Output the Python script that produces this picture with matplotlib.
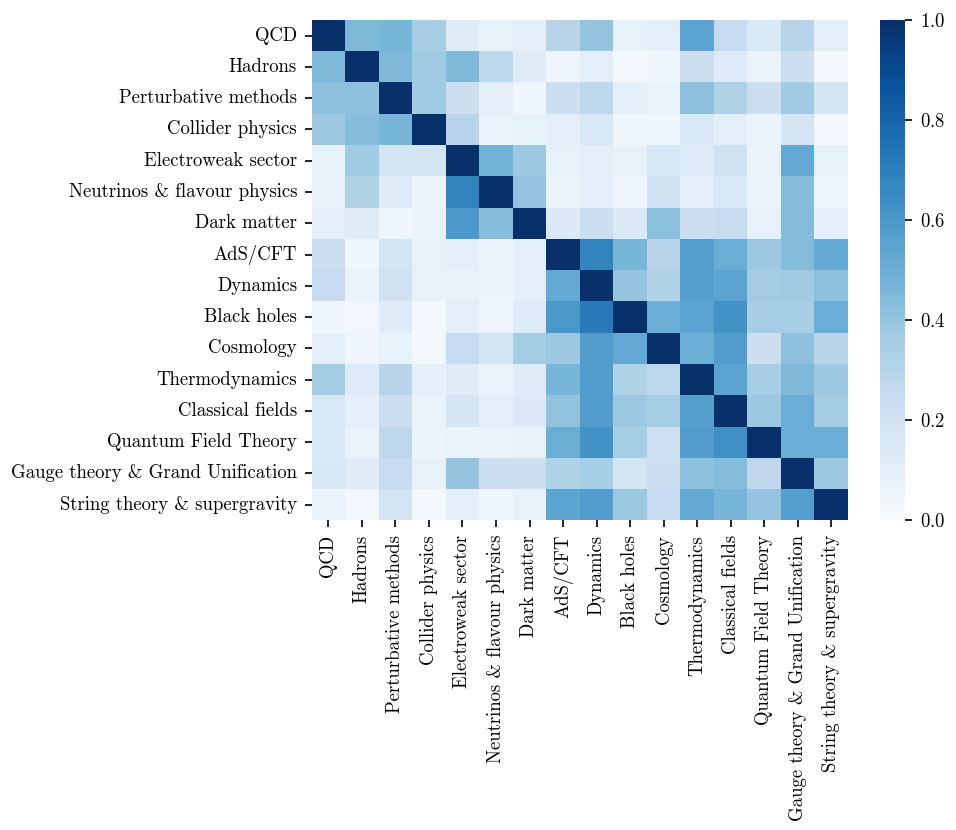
import numpy as np
import matplotlib
matplotlib.use("Agg")
import matplotlib.pyplot as plt
import seaborn as sns

# LaTeX-like look without latex
plt.rcParams['font.family'] = 'serif'
plt.rcParams['font.serif'] = ['cmr10']
plt.rcParams['mathtext.fontset'] = 'cm'
plt.rcParams['axes.formatter.use_mathtext'] = True
plt.rcParams['axes.unicode_minus'] = False

topics = ["QCD", "Hadrons", "Perturbative methods", "Collider physics",
          "Electroweak sector", "Neutrinos & flavour physics", "Dark matter",
          "AdS/CFT", "Dynamics", "Black holes", "Cosmology", "Thermodynamics",
          "Classical fields", "Quantum Field Theory",
          "Gauge theory & Grand Unification", "String theory & supergravity"]

# similarity between topics, row by row
row_qcd = [1.0, 0.45, 0.47, 0.35, 0.12, 0.08, 0.10, 0.30, 0.40, 0.08, 0.10, 0.55, 0.25, 0.15, 0.30, 0.10]
row_had = [0.45, 1.0, 0.45, 0.37, 0.45, 0.28, 0.12, 0.05, 0.10, 0.03, 0.05, 0.22, 0.13, 0.07, 0.22, 0.02]
row_pert = [0.42, 0.42, 1.0, 0.37, 0.22, 0.09, 0.05, 0.22, 0.28, 0.09, 0.07, 0.42, 0.32, 0.23, 0.37, 0.18]
row_coll = [0.38, 0.43, 0.47, 1.0, 0.30, 0.07, 0.08, 0.10, 0.15, 0.04, 0.04, 0.15, 0.10, 0.07, 0.17, 0.03]
row_ew = [0.08, 0.37, 0.18, 0.18, 1.0, 0.48, 0.38, 0.08, 0.10, 0.08, 0.16, 0.13, 0.20, 0.07, 0.52, 0.08]
row_neu = [0.08, 0.32, 0.12, 0.06, 0.68, 1.0, 0.40, 0.06, 0.10, 0.05, 0.20, 0.10, 0.15, 0.07, 0.44, 0.05]
row_dm = [0.10, 0.12, 0.05, 0.07, 0.60, 0.43, 1.0, 0.14, 0.22, 0.14, 0.42, 0.22, 0.24, 0.08, 0.44, 0.09]
row_ads = [0.22, 0.05, 0.18, 0.08, 0.10, 0.06, 0.10, 1.0, 0.68, 0.47, 0.30, 0.57, 0.50, 0.38, 0.44, 0.52]
row_dyn = [0.25, 0.07, 0.20, 0.08, 0.08, 0.06, 0.10, 0.52, 1.0, 0.40, 0.32, 0.57, 0.55, 0.36, 0.37, 0.42]
row_bh = [0.05, 0.03, 0.12, 0.03, 0.10, 0.05, 0.13, 0.60, 0.72, 1.0, 0.50, 0.55, 0.62, 0.35, 0.35, 0.50]
row_cos = [0.09, 0.05, 0.08, 0.03, 0.25, 0.18, 0.36, 0.38, 0.58, 0.52, 1.0, 0.50, 0.58, 0.22, 0.42, 0.30]
row_thermo = [0.36, 0.13, 0.30, 0.09, 0.12, 0.07, 0.12, 0.47, 0.58, 0.32, 0.28, 1.0, 0.55, 0.35, 0.45, 0.38]
row_cf = [0.15, 0.09, 0.22, 0.07, 0.17, 0.10, 0.14, 0.41, 0.58, 0.38, 0.35, 0.57, 1.0, 0.38, 0.50, 0.36]
row_qft = [0.15, 0.07, 0.28, 0.06, 0.07, 0.06, 0.08, 0.50, 0.62, 0.35, 0.21, 0.58, 0.63, 1.0, 0.50, 0.50]
row_gauge = [0.16, 0.12, 0.25, 0.08, 0.40, 0.22, 0.22, 0.32, 0.35, 0.18, 0.22, 0.42, 0.44, 0.27, 1.0, 0.38]
row_string = [0.07, 0.03, 0.18, 0.02, 0.09, 0.05, 0.08, 0.54, 0.58, 0.38, 0.25, 0.52, 0.47, 0.40, 0.57, 1.0]

sim = np.array([row_qcd, row_had, row_pert, row_coll, row_ew, row_neu, row_dm,
                row_ads, row_dyn, row_bh, row_cos, row_thermo, row_cf, row_qft,
                row_gauge, row_string])

fig = plt.figure(figsize=(956 / 150, 830 / 150), dpi=150)
ax = fig.add_axes([0.326, 0.373, 0.561, 0.603])
cax = fig.add_axes([0.9205, 0.373, 0.0262, 0.603])

sns.heatmap(sim, ax=ax, cbar_ax=cax, cmap="Blues", vmin=0, vmax=1,
            xticklabels=topics, yticklabels=topics)
ax.tick_params(labelsize=9)
cax.tick_params(labelsize=9)
plt.setp(ax.get_xticklabels(), rotation=90)
plt.setp(ax.get_yticklabels(), rotation=0)

fig.savefig("out.png", dpi=150)
